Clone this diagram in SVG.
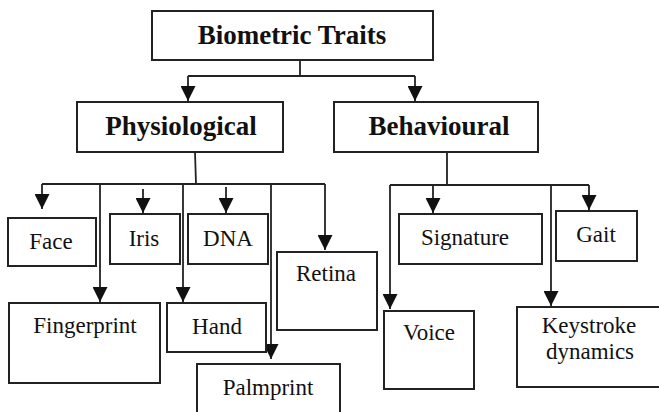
<svg xmlns="http://www.w3.org/2000/svg" width="659" height="412" viewBox="0 0 659 412">
  <defs>
    <marker id="arrow" markerUnits="userSpaceOnUse" markerWidth="15" markerHeight="15" refX="15" refY="7.5" orient="auto">
      <path d="M0,0 L15,7.5 L0,15 Z" fill="#111"/>
    </marker>
    <style>
      .box { fill: #fff; stroke: #222; stroke-width: 2; }
      .title { font-family: "Liberation Serif", "Times New Roman", serif; font-weight: bold; font-size: 27px; fill: #111; text-anchor: middle; }
      .label { font-family: "Liberation Serif", "Times New Roman", serif; font-size: 23px; fill: #111; text-anchor: middle; }
      .wire { fill: none; stroke: #222; stroke-width: 1.8; }
      .arrowed { marker-end: url(#arrow); }
    </style>
  </defs>
  <rect width="659" height="412" fill="#fff"/>

  <!-- connectors -->
  <g id="connectors">
    <!-- root to categories -->
    <path class="wire" d="M300,60 V76 M188,76 H415"/>
    <path class="wire arrowed" d="M188,76 V101"/>
    <path class="wire arrowed" d="M415,76 V101"/>
    <!-- physiological branch -->
    <path class="wire" d="M195,152 L196,184 M42,184 H325"/>
    <path class="wire arrowed" d="M42,184 V209"/>
    <path class="wire arrowed" d="M100,183 V302"/>
    <path class="wire arrowed" d="M143,189 V213"/>
    <path class="wire arrowed" d="M183,184 V302"/>
    <path class="wire arrowed" d="M226,187 V213"/>
    <path class="wire arrowed" d="M271,184 V359"/>
    <path class="wire arrowed" d="M325,184 V250"/>
    <!-- behavioural branch -->
    <path class="wire" d="M447,152 V185 M390,185 H589"/>
    <path class="wire arrowed" d="M390,185 V309"/>
    <path class="wire arrowed" d="M433,185 V213"/>
    <path class="wire arrowed" d="M551,185 V306"/>
    <path class="wire arrowed" d="M589,185 V210"/>
  </g>

  <g id="biometric-traits">
    <rect class="box" x="152" y="11" width="281" height="49"/>
    <text class="title" x="292" y="44">Biometric Traits</text>
  </g>
  <g id="physiological">
    <rect class="box" x="77" y="102" width="206" height="50"/>
    <text class="title" x="181" y="135">Physiological</text>
  </g>
  <g id="behavioural">
    <rect class="box" x="334" y="102" width="204" height="50"/>
    <text class="title" x="439" y="135">Behavioural</text>
  </g>

  <g id="face">
    <rect class="box" x="8" y="218" width="88" height="48"/>
    <text class="label" x="51" y="249">Face</text>
  </g>
  <g id="iris">
    <rect class="box" x="110" y="214" width="70" height="50"/>
    <text class="label" x="144" y="246">Iris</text>
  </g>
  <g id="dna">
    <rect class="box" x="188" y="214" width="80" height="50"/>
    <text class="label" x="228" y="246">DNA</text>
  </g>
  <g id="retina">
    <rect class="box" x="277" y="252" width="100" height="78"/>
    <text class="label" x="326" y="281">Retina</text>
  </g>
  <g id="fingerprint">
    <rect class="box" x="9" y="303" width="151" height="80"/>
    <text class="label" x="85" y="333">Fingerprint</text>
  </g>
  <g id="hand">
    <rect class="box" x="167" y="303" width="99" height="49"/>
    <text class="label" x="217" y="334">Hand</text>
  </g>
  <g id="palmprint">
    <rect class="box" x="197" y="364" width="143" height="60"/>
    <text class="label" x="268" y="395">Palmprint</text>
  </g>

  <g id="signature">
    <rect class="box" x="399" y="214" width="143" height="50"/>
    <text class="label" x="465" y="245">Signature</text>
  </g>
  <g id="gait">
    <rect class="box" x="556" y="211" width="81" height="50"/>
    <text class="label" x="596" y="242">Gait</text>
  </g>
  <g id="voice">
    <rect class="box" x="384" y="311" width="90" height="78"/>
    <text class="label" x="429" y="340">Voice</text>
  </g>
  <g id="keystroke-dynamics">
    <rect class="box" x="517" y="307" width="145" height="80"/>
    <text class="label" x="589" y="333">Keystroke</text>
    <text class="label" x="590" y="359">dynamics</text>
  </g>
</svg>
